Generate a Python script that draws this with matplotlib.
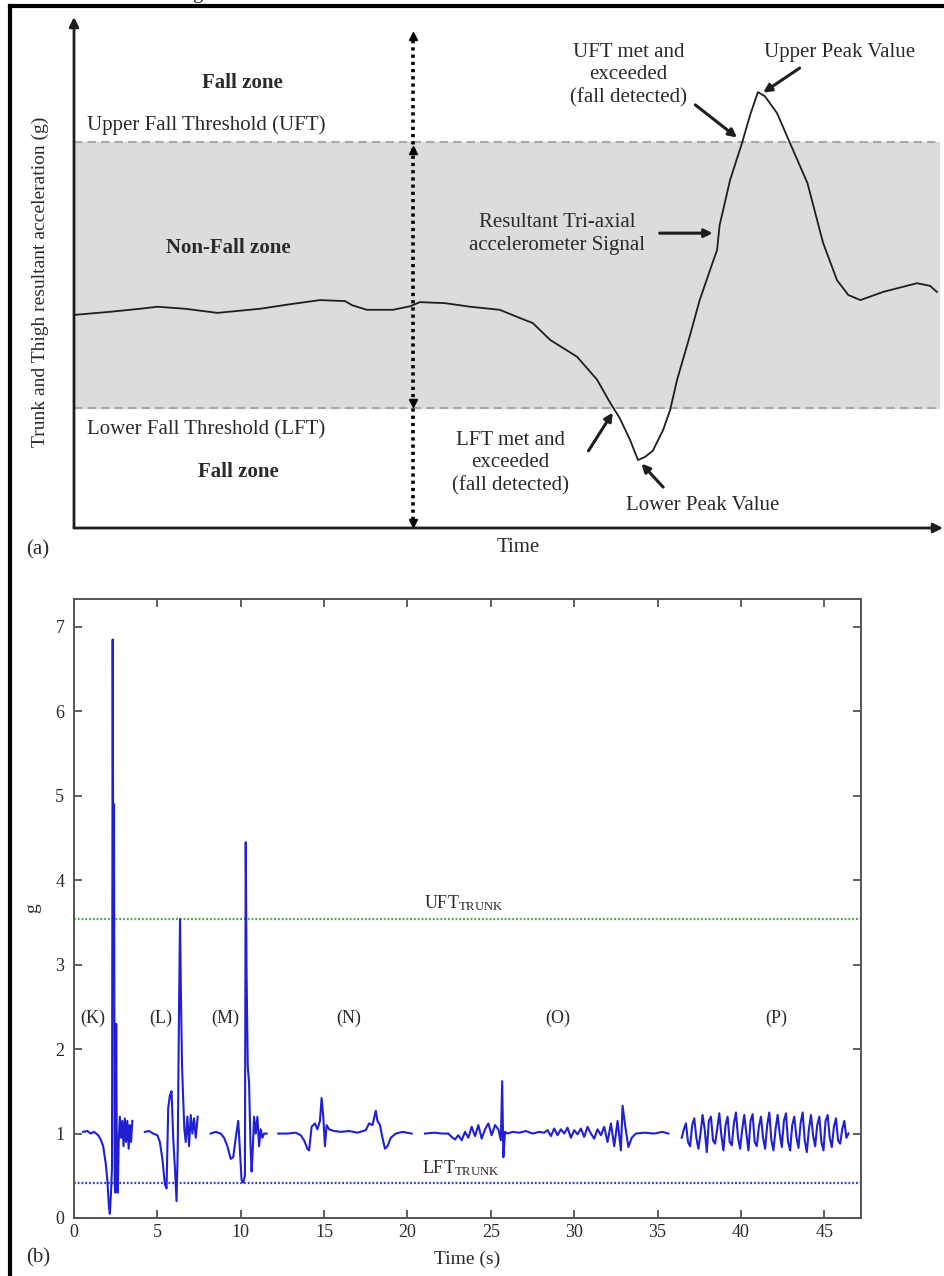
import numpy as np
import matplotlib.pyplot as plt
from matplotlib.lines import Line2D

plt.rcParams['font.family'] = ['Liberation Serif', 'DejaVu Serif']
plt.rcParams['mathtext.fontset'] = 'stix'

W, H = 945, 1276
TXT = '#2a2a2a'

# ---------------- panel (a): schematic, arbitrary units (time 0-100, acceleration 0-100)
sch_time = [0.0, 4.1, 7.6, 9.6, 12.8, 16.5, 21.4, 24.9, 28.3, 31.2, 32.0, 33.7, 36.7, 38.7,
            39.8, 42.7, 45.6, 49.0, 51.3, 52.8, 54.8, 57.9, 60.2, 61.7, 62.8, 64.0, 64.9,
            65.7, 66.6, 67.8, 68.6, 69.4, 70.9, 72.0, 73.4, 74.0, 74.3, 75.5, 76.9, 77.8,
            78.7, 79.5, 80.9, 82.4, 84.4, 86.2, 87.8, 89.1, 90.5, 93.1, 97.0, 98.5, 99.3]
sch_acc = [41.7, 42.3, 42.9, 43.3, 42.9, 42.1, 42.9, 43.8, 44.6, 44.4, 43.6, 42.7, 42.7, 43.4,
           44.2, 44.0, 43.3, 42.7, 41.1, 40.1, 36.8, 33.5, 29.0, 24.5, 21.5, 17.2, 13.3,
           13.9, 15.1, 19.2, 23.1, 29.0, 37.8, 44.6, 51.5, 54.4, 59.3, 68.1, 75.5, 80.8,
           85.3, 84.5, 81.2, 75.3, 67.5, 55.8, 48.5, 45.6, 44.6, 46.2, 47.9, 47.4, 46.2]
uft_a = 75.5
lft_a = 23.5

# ---------------- panel (b): recorded trunk acceleration (g) per activity
t_k = [0.55, 0.8, 1.0, 1.2, 1.45, 1.6, 1.75, 1.9, 2.0, 2.1, 2.15, 2.22, 2.28, 2.32, 2.36, 2.40,
       2.44, 2.48, 2.53, 2.58, 2.63, 2.68, 2.75, 2.82, 2.9, 2.97, 3.05, 3.12, 3.2, 3.28, 3.35,
       3.42, 3.5]
g_k = [1.02, 1.03, 1.0, 1.02, 0.98, 0.93, 0.85, 0.65, 0.45, 0.12, 0.05, 0.3, 0.6, 6.85, 3.3,
       4.9, 0.4, 0.3, 2.3, 0.35, 0.3, 0.9, 1.2, 0.95, 1.15, 0.85, 1.18, 0.9, 1.15, 0.82, 1.1,
       0.9, 1.15]

t_l = [4.25, 4.5, 4.75, 5.0, 5.15, 5.3, 5.45, 5.55, 5.65, 5.75, 5.85, 5.95, 6.05, 6.15, 6.22,
       6.3, 6.36, 6.42, 6.48, 6.55, 6.62, 6.7, 6.8, 6.9, 7.0, 7.1, 7.2, 7.3, 7.42]
g_l = [1.02, 1.03, 1.0, 0.98, 0.9, 0.7, 0.4, 0.35, 1.3, 1.45, 1.5, 0.95, 0.6, 0.2, 0.8, 2.5,
       3.54, 2.55, 1.8, 1.4, 1.05, 0.9, 1.2, 0.85, 1.22, 1.0, 1.18, 0.95, 1.2]

t_m = [8.2, 8.5, 8.8, 9.0, 9.2, 9.4, 9.55, 9.7, 9.85, 9.95, 10.05, 10.15, 10.25, 10.3, 10.35,
       10.42, 10.5, 10.58, 10.65, 10.72, 10.8, 10.9, 11.0, 11.1, 11.2, 11.3, 11.4, 11.55]
g_m = [1.0, 1.02, 1.0, 0.95, 0.85, 0.7, 0.72, 0.95, 1.15, 0.8, 0.45, 0.42, 0.5, 4.45, 2.9,
       1.8, 1.6, 0.9, 0.55, 0.8, 1.2, 1.0, 1.2, 0.85, 1.05, 0.95, 1.0, 1.0]

t_n = [12.25, 12.8, 13.3, 13.6, 13.8, 14.0, 14.1, 14.25, 14.45, 14.6, 14.75, 14.85, 14.95,
       15.05, 15.15, 15.3, 15.6, 16.0, 16.5, 17.0, 17.5, 17.7, 17.9, 18.1, 18.2, 18.35, 18.5,
       18.65, 18.8, 19.0, 19.3, 19.7, 20.25]
g_n = [1.0, 1.0, 1.01, 0.98, 0.92, 0.82, 0.8, 1.08, 1.12, 1.05, 1.15, 1.42, 1.2, 0.85, 1.1,
       1.05, 1.03, 1.02, 1.03, 1.01, 1.04, 1.12, 1.1, 1.27, 1.15, 1.1, 0.95, 0.82, 0.85, 0.95,
       1.0, 1.02, 1.0]

t_o = [21.05, 21.6, 22.1, 22.45, 22.65, 22.85, 23.05, 23.25, 23.45, 23.65, 23.85, 24.05, 24.25,
       24.45, 24.65, 24.85, 25.05, 25.25, 25.45, 25.6, 25.68, 25.75, 25.85, 26.0, 26.3, 26.7,
       27.1, 27.5, 27.9, 28.2, 28.4, 28.6, 28.8, 29.0, 29.2, 29.4, 29.6, 29.8, 30.0, 30.2,
       30.4, 30.6, 30.8, 31.0, 31.2, 31.4, 31.6, 31.8, 32.0, 32.2, 32.4, 32.6, 32.8, 32.9,
       33.05, 33.25, 33.45, 33.7, 34.2, 34.8, 35.3, 35.65]
g_o = [1.0, 1.01, 1.0, 1.0, 0.96, 0.93, 0.98, 0.92, 1.02, 0.95, 1.08, 0.97, 1.1, 0.94, 1.05,
       1.12, 0.98, 1.1, 1.05, 0.92, 1.62, 0.72, 1.02, 1.0, 1.02, 1.01, 1.03, 1.0, 1.02, 1.01,
       1.04, 0.97, 1.06, 0.98, 1.05, 1.0, 1.07, 0.95, 1.04, 0.99, 1.06, 0.96, 1.08, 1.0, 0.94,
       1.05, 0.98, 1.08, 0.9, 1.12, 0.85, 1.15, 0.8, 1.33, 1.1, 0.84, 0.95, 1.0, 1.01, 1.0,
       1.02, 1.0]

t_p = [36.45, 36.575, 36.7, 36.825, 36.95, 37.075, 37.2, 37.325, 37.45, 37.575, 37.7, 37.825,
       37.95, 38.075, 38.2, 38.325, 38.45, 38.575, 38.7, 38.825, 38.95, 39.075, 39.2, 39.325,
       39.45, 39.575, 39.7, 39.825, 39.95, 40.075, 40.2, 40.325, 40.45, 40.575, 40.7, 40.825,
       40.95, 41.075, 41.2, 41.325, 41.45, 41.575, 41.7, 41.825, 41.95, 42.075, 42.2, 42.325,
       42.45, 42.575, 42.7, 42.825, 42.95, 43.075, 43.2, 43.325, 43.45, 43.575, 43.7, 43.825,
       43.95, 44.075, 44.2, 44.325, 44.45, 44.575, 44.7, 44.825, 44.95, 45.075, 45.2, 45.325,
       45.45, 45.575, 45.7, 45.825, 45.95, 46.075, 46.2, 46.325, 46.45]
g_p = [0.95, 1.05, 1.12, 0.9,  0.85, 1.1, 1.18, 0.95,  0.82, 1.0, 1.22, 1.05,
       0.78, 1.15, 1.2, 0.92,  0.88, 1.05, 1.24, 0.98,  0.8, 1.1, 1.2, 0.9,
       0.86, 1.12, 1.25, 0.95,  0.82, 1.05, 1.22, 1.0,  0.8, 1.15, 1.23, 0.9,
       0.85, 1.08, 1.2, 0.95,  0.82, 1.1, 1.25, 0.92,  0.8, 1.05, 1.22, 1.0,
       0.84, 1.15, 1.24, 0.9,  0.8, 1.1, 1.2, 0.96,  0.83, 1.12, 1.25, 0.92,
       0.78, 1.05, 1.22, 0.98,  0.85, 1.1, 1.2, 0.9,  0.8, 1.15, 1.22, 0.95,
       0.84, 1.08, 1.18, 0.92,  0.88, 1.05, 1.15, 0.95,  1.0]

segments = [(t_k, g_k), (t_l, g_l), (t_m, g_m), (t_n, g_n), (t_o, g_o), (t_p, g_p)]
region_names = ['(K)', '(L)', '(M)', '(N)', '(O)', '(P)']
region_x = [1.15, 5.2, 9.05, 16.5, 29.0, 42.1]
uft_trunk = 3.54
lft_trunk = 0.41


def fx(px):
    return px / W


def fy(py):
    return 1 - py / H


fig = plt.figure(figsize=(W / 100, H / 100), dpi=100)

# outer frame (left and top edges visible) and cropped caption glyph
fig.add_artist(Line2D([fx(10), fx(10)], [0, fy(6)], color='k', lw=3))
fig.add_artist(Line2D([fx(10), 1], [fy(6), fy(6)], color='k', lw=3))
fig.text(fx(197), 1 + 2 / H, 'g', fontsize=15, ha='center', va='baseline', color=TXT)

# ---------------- panel (a)
ax = fig.add_axes([fx(74), fy(528), (943 - 74) / W, (528 - 17) / H])
ax.set_xlim(0, 100)
ax.set_ylim(0, 100)
ax.axis('off')

ax.axhspan(lft_a, uft_a, xmin=0, xmax=0.995, color='#dcdcdc', zorder=0)
for yv in (uft_a, lft_a):
    ax.axhline(yv, xmin=0, xmax=0.995, color='#a8a8a8', lw=1.5, ls=(0, (4, 2.5)), zorder=1)
ax.plot(sch_time, sch_acc, color='#1e1e1e', lw=1.3, zorder=3)

arr = dict(arrowstyle='-|>', color='#1e1e1e', lw=2, mutation_scale=14, shrinkA=0, shrinkB=0)
ax.annotate('', xy=(0, 100), xytext=(0, 0), arrowprops=arr, annotation_clip=False)
ax.annotate('', xy=(100, 0), xytext=(0, 0), arrowprops=arr, annotation_clip=False)

# dotted double arrow separating the two phases
xd = 39.0
ax.plot([xd, xd], [1.5, 95.5], color='k', lw=2.6, ls=(0, (0.9, 1.1)), zorder=4)
ax.plot([xd], [96.3], marker='^', color='k', ms=6, zorder=5)
ax.plot([xd], [1.0], marker='v', color='k', ms=6, zorder=5)
ax.plot([xd], [uft_a - 1.6], marker='^', color='k', ms=6, zorder=5)
ax.plot([xd], [lft_a + 1.0], marker='v', color='k', ms=6, zorder=5)

fs = 15
ax.text(19.4, 87.1, 'Fall zone', fontsize=fs, fontweight='bold', ha='center', va='center', color=TXT)
ax.text(1.5, 78.9, 'Upper Fall Threshold (UFT)', fontsize=fs, ha='left', va='center', color=TXT)
ax.text(17.7, 54.8, 'Non-Fall zone', fontsize=fs, fontweight='bold', ha='center', va='center', color=TXT)
ax.text(1.5, 19.2, 'Lower Fall Threshold (LFT)', fontsize=fs, ha='left', va='center', color=TXT)
ax.text(18.9, 11.0, 'Fall zone', fontsize=fs, fontweight='bold', ha='center', va='center', color=TXT)

ax.text(63.8, 88.6, 'UFT met and\nexceeded\n(fall detected)', fontsize=fs, ha='center',
        va='center', color=TXT, linespacing=1.25)
ax.text(88.1, 93.0, 'Upper Peak Value', fontsize=fs, ha='center', va='center', color=TXT)
ax.text(55.6, 57.5, 'Resultant Tri-axial\naccelerometer Signal', fontsize=fs, ha='center',
        va='center', color=TXT, linespacing=1.25)
ax.text(50.2, 12.7, 'LFT met and\nexceeded\n(fall detected)', fontsize=fs, ha='center',
        va='center', color=TXT, linespacing=1.25)
ax.text(72.4, 4.5, 'Lower Peak Value', fontsize=fs, ha='center', va='center', color=TXT)

pt = dict(arrowstyle='-|>', color='#1e1e1e', lw=2.2, mutation_scale=12, shrinkA=0, shrinkB=0)
ax.annotate('', xy=(79.3, 85.2), xytext=(83.5, 90.0), arrowprops=pt)
ax.annotate('', xy=(76.3, 76.4), xytext=(71.5, 82.8), arrowprops=pt)
ax.annotate('', xy=(73.5, 57.7), xytext=(67.4, 57.7), arrowprops=pt)
ax.annotate('', xy=(62.0, 22.6), xytext=(59.2, 15.1), arrowprops=pt)
ax.annotate('', xy=(65.3, 12.6), xytext=(67.8, 8.0), arrowprops=pt)

fig.text(fx(40), fy(282), 'Trunk and Thigh resultant acceleration (g)', rotation=90,
         fontsize=14, ha='center', va='center', color=TXT)
fig.text(fx(38), fy(550), '(a)', fontsize=15, ha='center', va='center', color=TXT)
fig.text(fx(518), fy(548), 'Time', fontsize=15, ha='center', va='center', color=TXT)

# ---------------- panel (b)
bx = fig.add_axes([fx(74), fy(1218), (861 - 74) / W, (1218 - 599) / H])
for t, g in segments:
    bx.plot(t, g, color='#2020d2', lw=1.5, zorder=3)
bx.axhline(uft_trunk, color='#3fae3f', lw=1.6, ls=(0, (0.8, 0.9)), zorder=2)
bx.axhline(lft_trunk, color='#3535cc', lw=1.6, ls=(0, (0.8, 0.9)), zorder=2)

bx.set_xlim(0, 47.2)
bx.set_ylim(0, 7.33)
bx.set_xticks(np.arange(0, 46, 5))
bx.set_yticks(np.arange(0, 8, 1))
bx.tick_params(direction='in', length=6, width=1.2, colors='#444444', labelcolor=TXT,
               labelsize=13, top=True, right=True)
bx.tick_params(axis='y', pad=7)
bx.tick_params(axis='x', pad=4)
for sp in bx.spines.values():
    sp.set_color('#555555')
    sp.set_linewidth(1.4)

for name, xr in zip(region_names, region_x):
    bx.text(xr, 2.37, name, fontsize=13, ha='center', va='center', color=TXT)
bx.text(23.4, 3.73, r'UFT$_{\mathregular{TRUNK}}$', fontsize=13, ha='center', va='center', color=TXT)
bx.text(23.2, 0.59, r'LFT$_{\mathregular{TRUNK}}$', fontsize=13, ha='center', va='center', color=TXT)

bx.set_xlabel('Time (s)', fontsize=14, color=TXT, labelpad=7)
bx.set_ylabel('g', fontsize=14, color=TXT, labelpad=10)
fig.text(fx(38), fy(1258), '(b)', fontsize=15, ha='center', va='center', color=TXT)

fig.savefig('out.png', dpi=100)
